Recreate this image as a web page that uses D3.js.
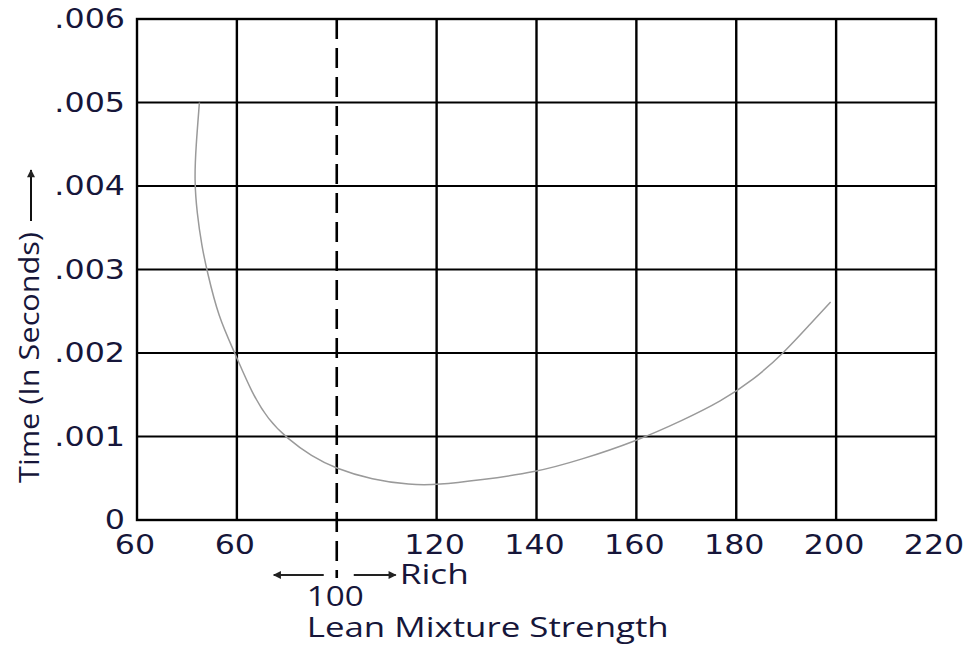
<!DOCTYPE html>
<meta charset="utf-8">
<title>lean mixture</title>
<style>
  body { margin: 0; background: #fff; }
  .tick-label { font-family: "DejaVu Sans", sans-serif; font-size: 26px; fill: #16163a; }
  .label { font-family: "Open Sans", sans-serif; font-size: 27px; fill: #16163a; }
</style>
<body>
<div id="chart"></div>
<script src="https://d3js.org/d3.v7.min.js"></script>
<script>

// values

var mixture = [72.5, 71.8, 71.5, 72.0, 73.0, 74.0, 76.3, 79.6, 83.0, 86.3, 90.0, 95.0,
  99.7, 107.1, 114.7, 120.2, 128.8, 139.8, 148.8, 159.8, 169.5, 176.9, 183.5, 189.5,
  195.0, 198.9];
var time = [.005, .00447, .00407, .00368, .00327, .00299, .00243, .00200, .00152, .00120,
  .00098, .00076, .00062, .00048, .00042, .00042, .00048, .00057, .00072, .00094, .00120,
  .00142, .00168, .00200, .00236, .00261];

var xTicks = [60, 80, 120, 140, 160, 180, 200, 220];
var xTickLabels = ["60", "60", "120", "140", "160", "180", "200", "220"];
var xGrid = [80, 120, 140, 160, 180, 200];
var yTicks = [0, .001, .002, .003, .004, .005, .006];
var yTickLabels = ["0", ".001", ".002", ".003", ".004", ".005", ".006"];
var stoich = 100;

var width = 969, height = 645;
var margin = {top: 19, right: 33, bottom: 125, left: 137};
var w = width - margin.left - margin.right,
    h = height - margin.top - margin.bottom;

var svg = d3.select("#chart").append("svg")
    .attr("width", width)
    .attr("height", height);

svg.append("defs").append("marker")
    .attr("id", "head")
    .attr("viewBox", "0 0 10 10")
    .attr("refX", 9).attr("refY", 5)
    .attr("markerWidth", 5).attr("markerHeight", 4)
    .attr("markerUnits", "strokeWidth")
    .attr("orient", "auto")
  .append("path")
    .attr("d", "M0,0L10,5L0,10z")
    .attr("fill", "#222");

var g = svg.append("g")
    .attr("transform", "translate(" + margin.left + "," + margin.top + ")");

var x = d3.scaleLinear().domain([60, 220]).range([0, w]);
var y = d3.scaleLinear().domain([0, .006]).range([h, 0]);

// grid

g.selectAll("line.hgrid")
  .data(yTicks)
  .enter().append("line")
  .attr("class", "hgrid")
  .attr("x1", 0).attr("x2", w)
  .attr("y1", function(d) { return y(d); })
  .attr("y2", function(d) { return y(d); })
  .attr("stroke", "#000")
  .attr("stroke-width", 2);

g.selectAll("line.vgrid")
  .data(xGrid)
  .enter().append("line")
  .attr("class", "vgrid")
  .attr("x1", function(d) { return x(d); })
  .attr("x2", function(d) { return x(d); })
  .attr("y1", 0).attr("y2", h)
  .attr("stroke", "#000")
  .attr("stroke-width", 2.4);

g.append("rect")
  .attr("width", w).attr("height", h)
  .attr("fill", "none")
  .attr("stroke", "#000")
  .attr("stroke-width", 2.4);

// dashed line at 100, running down into the label area

g.append("line")
  .attr("x1", x(stoich)).attr("x2", x(stoich))
  .attr("y1", 0).attr("y2", h + 58)
  .attr("stroke", "#000")
  .attr("stroke-width", 2.6)
  .attr("stroke-dasharray", "20,9");

// curve

var line = d3.line()
  .x(function(d) { return x(d[0]); })
  .y(function(d) { return y(d[1]); })
  .curve(d3.curveBasis);

g.append("path")
  .datum(d3.zip(mixture, time))
  .attr("d", line)
  .attr("fill", "none")
  .attr("stroke", "#9a9a9a")
  .attr("stroke-width", 1.5);

// tick labels

g.selectAll("text.xt")
  .data(xTicks)
  .enter().append("text")
  .attr("class", "tick-label xt")
  .attr("text-anchor", "middle")
  .attr("transform", function(d) { return "translate(" + (x(d) - 2) + "," + (h + 34) + ") scale(1.22,1)"; })
  .text(function(d, i) { return xTickLabels[i]; });

g.selectAll("text.yt")
  .data(yTicks)
  .enter().append("text")
  .attr("class", "tick-label yt")
  .attr("text-anchor", "end")
  .attr("dy", "0.36em")
  .attr("transform", function(d) { return "translate(-12," + y(d) + ") scale(1.22,1)"; })
  .text(function(d, i) { return yTickLabels[i]; });

// annotation under the dashed line

g.append("line")
  .attr("x1", x(stoich) - 13).attr("x2", x(stoich) - 63)
  .attr("y1", h + 55).attr("y2", h + 55)
  .attr("stroke", "#222").attr("stroke-width", 2)
  .attr("marker-end", "url(#head)");

g.append("line")
  .attr("x1", x(stoich) + 17).attr("x2", x(stoich) + 59)
  .attr("y1", h + 55).attr("y2", h + 55)
  .attr("stroke", "#222").attr("stroke-width", 2)
  .attr("marker-end", "url(#head)");

g.append("text")
  .attr("class", "label")
  .attr("x", x(stoich) + 63).attr("y", h + 64)
  .attr("textLength", 69).attr("lengthAdjust", "spacingAndGlyphs")
  .text("Rich");

g.append("text")
  .attr("class", "label")
  .attr("x", x(stoich) - 30).attr("y", h + 86)
  .attr("textLength", 57).attr("lengthAdjust", "spacingAndGlyphs")
  .text("100");

g.append("text")
  .attr("class", "label")
  .attr("x", x(stoich) - 30).attr("y", h + 117)
  .attr("textLength", 362).attr("lengthAdjust", "spacingAndGlyphs")
  .text("Lean Mixture Strength");

// y axis title with its arrow

svg.append("text")
  .attr("class", "label")
  .attr("transform", "translate(39,483) rotate(-90)")
  .attr("textLength", 251).attr("lengthAdjust", "spacingAndGlyphs")
  .text("Time (In Seconds)");

svg.append("line")
  .attr("x1", 31).attr("x2", 31)
  .attr("y1", 221).attr("y2", 170)
  .attr("stroke", "#111").attr("stroke-width", 2)
  .attr("marker-end", "url(#head)");

</script>
</body>
